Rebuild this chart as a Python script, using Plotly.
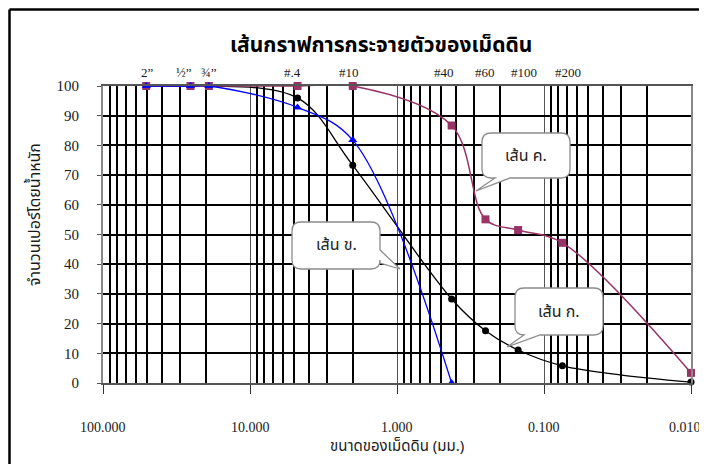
import math
import plotly.graph_objects as go

# ---------------- data ----------------
sizes = [50.8, 25.4, 19.05, 4.75, 2.0, 0.425, 0.25, 0.15, 0.075, 0.01]
line_ko = [100, 100, 100, 96.0, 73.3, 28.3, 17.6, 11.1, 5.8, 0.3]      # เส้น ก. (black)
line_kho_sizes = [50.8, 25.4, 19.05, 4.75, 2.0, 0.425]
line_kho = [100, 100, 100, 92.8, 81.8, 0.0]                           # เส้น ข. (blue)
line_kho_k = [100, 100, 100, 100, 100, 86.7, 55.1, 51.5, 47.2, 3.4]   # เส้น ค. (purple)

sieve_labels = ["2\u201d", "\u00bd\u201d", "\u00be\u201d", "#.4", "#10", "#40", "#60", "#100", "#200"]
sieve_sizes = [50.8, 25.4, 19.05, 4.75, 2.0, 0.425, 0.25, 0.15, 0.075]
sieve_shift = [1, -6, 0, -5, -4, -8, -1, 6, 6]

x_tickvals = [100, 10, 1, 0.1, 0.01]
x_ticktext = ["100.000", "10.000", "1.000", "0.100", "0.010"]
x_tickshift = [0, 0, 0, 0, -6]
y_tickvals = [0, 10, 20, 30, 40, 50, 60, 70, 80, 90, 100]

title_text = "เส้นกราฟการกระจายตัวของเม็ดดิน"
x_title = "ขนาดของเม็ดดิน (มม.)"
y_title = "จำนวนเปอร์โดยน้ำหนัก"

# ---------------- layout geometry ----------------
# the page body adds an 8px offset; reference pixel coords are converted via OFF
OFF = 8
W, H = 707 - OFF, 464 - OFF
PL, PR, PT, PB = 103, 691, 86, 383          # plot area in reference pixels
L, R, T, B = PL - OFF, W - (PR - OFF), PT - OFF, H - (PB - OFF)
PW, PH = PR - PL, PB - PT

THAI = "Tahoma, 'Noto Sans Thai', 'Noto Serif Thai', 'Noto Sans', 'DejaVu Sans', sans-serif"
SERIF = "'Liberation Serif', 'Times New Roman', serif"


def px(x):
    return (x - PL) / PW


def py(y):
    return (PB - y) / PH


fig = go.Figure()

fig.add_trace(go.Scatter(
    x=sizes, y=line_ko, mode="lines+markers", name="เส้น ก.",
    line=dict(color="black", width=1.3, shape="spline", smoothing=1.0),
    marker=dict(symbol="circle", size=7, color="black"), cliponaxis=False))
fig.add_trace(go.Scatter(
    x=sizes, y=line_kho_k, mode="lines+markers", name="เส้น ค.",
    line=dict(color="#993366", width=1.5, shape="spline", smoothing=1.0),
    marker=dict(symbol="square", size=8, color="#993366"), cliponaxis=False))
fig.add_trace(go.Scatter(
    x=line_kho_sizes, y=line_kho, mode="lines+markers", name="เส้น ข.",
    line=dict(color="#0000ff", width=1.3, shape="spline", smoothing=1.0),
    marker=dict(symbol="triangle-up", size=8, color="#0000ff"), cliponaxis=False))

# minor grid values (2..9 in every decade)
minor_vals = []
for dec in [0.01, 0.1, 1, 10]:
    for m in range(2, 10):
        minor_vals.append(round(dec * m, 6))

fig.update_xaxes(
    type="log", range=[2, -2], tickmode="array", tickvals=x_tickvals,
    ticktext=[""] * len(x_tickvals),
    showgrid=True, gridcolor="#555555", gridwidth=1,
    ticks="outside", ticklen=9, tickwidth=1.2, tickcolor="#333333",
    showline=True, linecolor="#555555", linewidth=2, mirror=True,
    minor=dict(tickmode="array", tickvals=minor_vals, showgrid=True,
               gridcolor="black", gridwidth=2, ticks=""),
    automargin=False, zeroline=False,
)
fig.update_yaxes(
    range=[0, 100], tickmode="array", tickvals=y_tickvals,
    showgrid=True, gridcolor="black", gridwidth=2,
    ticks="outside", ticklen=4, tickcolor="#555555",
    ticklabelstandoff=15,
    tickfont=dict(family=SERIF, size=15, color="#1a1a1a"),
    showline=True, linecolor="#888888", linewidth=2, mirror=True,
    automargin=False, zeroline=False,
)

annotations = []
annotations.append(dict(text="<b>" + title_text + "</b>", xref="paper", yref="paper",
                        x=px(381), y=py(45), showarrow=False, xanchor="center", yanchor="middle",
                        font=dict(family=THAI, size=21, color="black")))
annotations.append(dict(text=x_title, xref="paper", yref="paper",
                        x=px(397), y=py(446), showarrow=False, xanchor="center", yanchor="middle",
                        font=dict(family=THAI, size=15, color="#1a1a1a")))
annotations.append(dict(text=y_title, xref="paper", yref="paper", textangle=-90,
                        x=px(35), y=py(215), showarrow=False, xanchor="center", yanchor="middle",
                        font=dict(family=THAI, size=16, color="#1a1a1a")))
for v, t, sh in zip(x_tickvals, x_ticktext, x_tickshift):
    annotations.append(dict(text=t, xref="x", yref="paper", x=math.log10(v), y=py(427),
                            xshift=sh, showarrow=False, xanchor="center", yanchor="middle",
                            font=dict(family=SERIF, size=14, color="#1a1a1a")))
for lab, s, sh in zip(sieve_labels, sieve_sizes, sieve_shift):
    annotations.append(dict(text=lab, xref="x", yref="paper", x=math.log10(s), y=py(72),
                            xshift=sh, showarrow=False, xanchor="center", yanchor="middle",
                            font=dict(family=SERIF, size=13, color="#1a1a1a")))

shapes = []


def bubble(x0, y0, x1, y1, r, edge, a, b, tip):
    """Rounded rectangle (reference pixel coords) with a tail on the given edge."""
    def P(x, y):
        return f"{px(x):.5f},{py(y):.5f}"
    d = f"M {P(x0 + r, y0)} "
    if edge == "top":
        d += f"L {P(a, y0)} L {P(*tip)} L {P(b, y0)} "
    d += f"L {P(x1 - r, y0)} Q {P(x1, y0)} {P(x1, y0 + r)} "
    if edge == "right":
        d += f"L {P(x1, a)} L {P(*tip)} L {P(x1, b)} "
    d += f"L {P(x1, y1 - r)} Q {P(x1, y1)} {P(x1 - r, y1)} "
    if edge == "bottom":
        d += f"L {P(b, y1)} L {P(*tip)} L {P(a, y1)} "
    d += f"L {P(x0 + r, y1)} Q {P(x0, y1)} {P(x0, y1 - r)} "
    d += f"L {P(x0, y0 + r)} Q {P(x0, y0)} {P(x0 + r, y0)} Z"
    return dict(type="path", xref="paper", yref="paper", path=d,
                fillcolor="white", line=dict(color="#8c8c8c", width=1.3), layer="above")


callouts = [
    ("เส้น ค.", (482, 133, 570, 178), "bottom", 495, 510, (476, 191)),
    ("เส้น ข.", (292, 222, 380, 269), "right", 250, 263, (400, 269)),
    ("เส้น ก.", (515, 288, 603, 335), "bottom", 524, 540, (507, 347)),
]
for txt, (x0, y0, x1, y1), edge, a, b, tip in callouts:
    shapes.append(bubble(x0, y0, x1, y1, 9, edge, a, b, tip))
    annotations.append(dict(text=txt, xref="paper", yref="paper",
                            x=px((x0 + x1) / 2), y=py((y0 + y1) / 2), showarrow=False,
                            xanchor="center", yanchor="middle",
                            font=dict(family=THAI, size=16, color="#222222")))

# outer frame (left and top edges visible)
shapes.append(dict(type="line", xref="paper", yref="paper", x0=px(9.5), x1=px(9.5),
                   y0=py(9.5), y1=py(470), line=dict(color="black", width=2.5)))
shapes.append(dict(type="line", xref="paper", yref="paper", x0=px(9.5), x1=px(715),
                   y0=py(9.5), y1=py(9.5), line=dict(color="black", width=2.5)))

fig.update_layout(
    width=W, height=H, margin=dict(l=L, r=R, t=T, b=B, autoexpand=False),
    paper_bgcolor="white", plot_bgcolor="white",
    showlegend=False, annotations=annotations, shapes=shapes,
)

fig.write_html("out.html")
